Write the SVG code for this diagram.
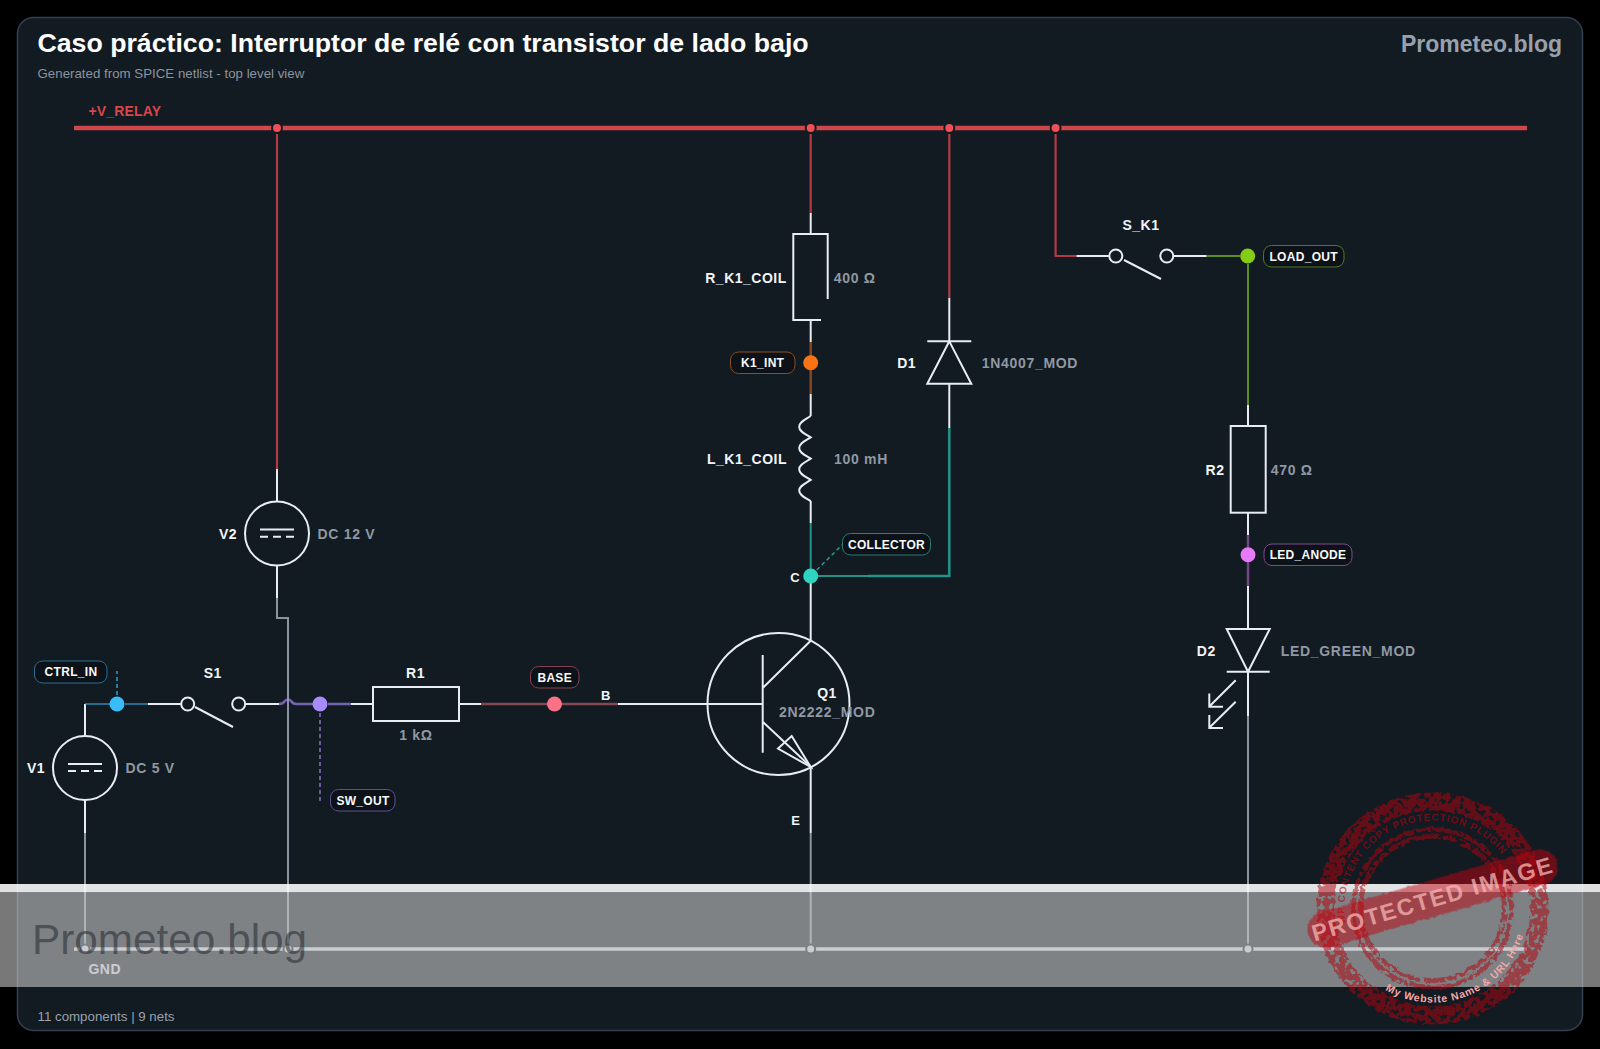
<svg xmlns="http://www.w3.org/2000/svg" width="1600" height="1049" viewBox="0 0 1600 1049">
<style>
text{font-family:"Liberation Sans",Arial,sans-serif}
.w{fill:none;stroke:#e8edf3;stroke-width:2}
.s{fill:none;stroke:#e8edf3;stroke-width:2}
.n{font-size:14px;font-weight:700;fill:#f1f5f9;letter-spacing:.5px;text-anchor:middle}
.t{font-size:13px;font-weight:700;fill:#f1f5f9;text-anchor:middle}
.v{font-size:14px;font-weight:700;fill:#8f98a3;letter-spacing:.7px}
.p{font-size:12px;font-weight:700;fill:#f8fafc;letter-spacing:.3px;text-anchor:middle}
.r{fill:none;stroke:#b23a44;stroke-width:2.2}
.g{fill:none;stroke:#8a94a1;stroke-width:2}
.pill{fill:#0c1218;stroke-width:1}
.j{stroke:#121a22;stroke-width:2}
</style>
<defs>
<filter id="rough" x="-5%" y="-5%" width="110%" height="110%" color-interpolation-filters="sRGB">
<feTurbulence type="fractalNoise" baseFrequency="0.2" numOctaves="2" seed="3" result="n"/>
<feDisplacementMap in="SourceGraphic" in2="n" scale="5" xChannelSelector="R" yChannelSelector="G" result="d"/>
<feColorMatrix in="n" type="matrix" values="0 0 0 0 0 0 0 0 0 0 0 0 0 0 0 0 0 0 -9 5.9" result="m"/>
<feComposite in="d" in2="m" operator="in"/>
</filter>
<filter id="edge" x="-5%" y="-20%" width="110%" height="140%" color-interpolation-filters="sRGB">
<feTurbulence type="fractalNoise" baseFrequency="0.2" numOctaves="2" seed="5" result="n"/>
<feDisplacementMap in="SourceGraphic" in2="n" scale="4" xChannelSelector="R" yChannelSelector="G"/>
</filter>
<path id="arcTop" d="M1345.8 923.8A88 88 0 0 1 1512.2 871.3"/>
<path id="arcBot" d="M1385 990A95 95 0 0 0 1527 900"/>
</defs>
<rect width="1600" height="1049" fill="#000"/>
<rect x="17.5" y="17.5" width="1565" height="1013" rx="16" fill="#121a22" stroke="#334150" stroke-width="1.5"/>
<text x="37.5" y="52" font-size="26.7" font-weight="700" fill="#fff">Caso práctico: Interruptor de relé con transistor de lado bajo</text>
<text x="37.5" y="78" font-size="13.3" fill="#8b949e">Generated from SPICE netlist - top level view</text>
<text x="1562" y="52" font-size="23" font-weight="700" fill="#98a1ab" text-anchor="end">Prometeo.blog</text>
<text x="37.5" y="1021" font-size="13.3" fill="#99a2ad">11 components | 9 nets</text>

<g id="connectors">
<path d="M74 128H1527" fill="none" stroke="#d0484e" stroke-width="4.5"/>
<path d="M74 949H1527" fill="none" stroke="#cbd5e1" stroke-width="3.5"/>
<path class="r" d="M277 134V469"/>
<path class="w" d="M277 469V501M277 565V598"/>
<path class="g" d="M277 598V618H288V949"/>
<path class="r" d="M810.7 134V213"/>
<path class="w" d="M810.7 213V234M810.7 320V342M810.7 394V416M810.7 501V523M810.7 583V640M810.7 767V833"/>
<path class="g" d="M810.7 833V949"/>
<path d="M810.7 342V394" fill="none" stroke="#f97316" stroke-opacity=".5" stroke-width="2.5"/>
<path d="M810.7 523V569M818 576H868" fill="none" stroke="#2dd4bf" stroke-opacity=".65" stroke-width="2"/>
<path d="M868 576H949.3V428" fill="none" stroke="#2dd4bf" stroke-opacity=".65" stroke-width="2.5"/>
<path d="M816.7 570L842 545" fill="none" stroke="#2dd4bf" stroke-opacity=".7" stroke-width="1.5" stroke-dasharray="4 3"/>
<path class="r" d="M949.3 134V298"/>
<path class="w" d="M949.3 298V342M949.3 384V428"/>
<path class="r" d="M1055.6 134V256H1076.5"/>
<path class="w" d="M1076.5 256H1108.8M1173.8 256H1206.6"/>
<path d="M1206.6 256H1240M1248 264V405" fill="none" stroke="#84cc16" stroke-opacity=".65" stroke-width="2"/>
<path class="w" d="M1248 405V426M1248 513V535M1248 586V629M1248 672V716"/>
<path d="M1248 535V586" fill="none" stroke="#e879f9" stroke-opacity=".45" stroke-width="2.5"/>
<path class="g" d="M1248 716V949"/>
<path class="w" d="M85 736V704"/>
<path d="M85 704H110M125 704H148" fill="none" stroke="#38bdf8" stroke-opacity=".5" stroke-width="2"/>
<path d="M117 695V671" fill="none" stroke="#38bdf8" stroke-opacity=".8" stroke-width="1.5" stroke-dasharray="4 3"/>
<path class="w" d="M148 704H181M245.7 704H279M351 704H373M459 704H481M618 704H762.7"/>
<path d="M279 704Q283 704 285 701Q288 698 291 701Q293 704 296 704H313M328 704H351" fill="none" stroke="#a78bfa" stroke-opacity=".65" stroke-width="2.5"/>
<path d="M320 713V801" fill="none" stroke="#a78bfa" stroke-opacity=".8" stroke-width="1.5" stroke-dasharray="4 3"/>
<path d="M481 704H618" fill="none" stroke="#fb7185" stroke-opacity=".5" stroke-width="2.5"/>
<path class="g" d="M85 833V949"/>
<path class="w" d="M85 800V833"/>
</g>

<g id="junctions">
<g fill="#ef4f55" class="j"><circle cx="277" cy="128" r="5"/><circle cx="810.7" cy="128" r="5"/><circle cx="949.3" cy="128" r="5"/><circle cx="1055.6" cy="128" r="5"/></g>
<g fill="#cbd5e1" class="j"><circle cx="85" cy="949" r="4.5"/><circle cx="288" cy="949" r="4.5"/><circle cx="810.7" cy="949" r="4.5"/><circle cx="1248" cy="949" r="4.5"/></g>
</g>

<g id="net-ctrl-in"><circle cx="117" cy="704" r="7.5" fill="#38bdf8"/><rect class="pill" x="34.5" y="661" width="72.5" height="22" rx="8" stroke="#2a6f8f"/><text class="p" x="71" y="676">CTRL_IN</text></g>
<g id="net-sw-out"><circle cx="320" cy="704" r="7.5" fill="#a78bfa"/><rect class="pill" x="330.5" y="789.5" width="64.5" height="21.5" rx="8" stroke="#5b5391"/><text class="p" x="363" y="804.5">SW_OUT</text></g>
<g id="net-base"><circle cx="554.5" cy="704" r="7.5" fill="#fb7185"/><rect class="pill" x="530.5" y="666.5" width="48.5" height="21.5" rx="8" stroke="#87404f"/><text class="p" x="554.7" y="681.5">BASE</text></g>
<g id="net-k1-int"><circle cx="810.7" cy="362.7" r="7.5" fill="#f97316"/><rect class="pill" x="730.5" y="352" width="64.5" height="21.5" rx="8" stroke="#8a4f22"/><text class="p" x="762.7" y="367">K1_INT</text></g>
<g id="net-collector"><circle cx="810.7" cy="576" r="7.5" fill="#2dd4bf"/><rect class="pill" x="842.5" y="533.5" width="88" height="21.5" rx="8" stroke="#2a7f76"/><text class="p" x="886.5" y="548.5">COLLECTOR</text></g>
<g id="net-load-out"><circle cx="1247.7" cy="256" r="7.5" fill="#84cc16"/><rect class="pill" x="1263.5" y="245.5" width="80.5" height="21.5" rx="8" stroke="#4e7a1f"/><text class="p" x="1303.7" y="260.5">LOAD_OUT</text></g>
<g id="net-led-anode"><circle cx="1248" cy="554.7" r="7.5" fill="#e879f9"/><rect class="pill" x="1264" y="544" width="88" height="21.5" rx="8" stroke="#7e4a8c"/><text class="p" x="1308" y="559">LED_ANODE</text></g>
<text id="net-vrelay" x="88.5" y="116" font-size="14" font-weight="700" fill="#d9454a" letter-spacing=".15">+V_RELAY</text>
<text id="net-gnd" x="104.7" y="974" font-size="14" font-weight="700" fill="#cbd5e1" text-anchor="middle" letter-spacing=".5">GND</text>

<g id="V1"><circle class="s" cx="85" cy="768" r="32"/><path class="s" d="M68 764H102"/><path class="s" d="M68 771H102" stroke-dasharray="8 5"/><text class="n" x="36" y="773">V1</text><text class="v" x="125.5" y="773">DC 5 V</text></g>
<g id="V2"><circle class="s" cx="277" cy="533.5" r="32"/><path class="s" d="M260 529.5H294"/><path class="s" d="M260 536.7H294" stroke-dasharray="8 5"/><text class="n" x="228" y="538.5">V2</text><text class="v" x="317.5" y="538.5">DC 12 V</text></g>
<g id="S1"><circle class="s" cx="187.7" cy="704" r="6.5"/><circle class="s" cx="238.7" cy="704" r="6.5"/><path class="s" d="M195 707L233 727"/><text class="n" x="212.7" y="678">S1</text></g>
<g id="R1"><rect class="s" x="373" y="687" width="86" height="34"/><text class="n" x="415.5" y="678">R1</text><text class="v" x="416" y="740" text-anchor="middle">1 kΩ</text></g>
<g id="Q1"><circle class="s" cx="778.5" cy="704" r="71"/><path class="s" d="M762.7 655V752.7M762.7 688L810.7 640.7M762.7 721.7L810.7 766.7"/><path class="s" d="M810.7 767L778 748.5L791.7 736Z"/><text class="n" x="827" y="698">Q1</text><text class="v" x="779" y="717">2N2222_MOD</text><text class="t" x="605.7" y="700">B</text><text class="t" x="795" y="581.5">C</text><text class="t" x="795.7" y="825">E</text></g>
<g id="R_K1_COIL"><path class="s" d="M827.7 299V234H793.3V320H821"/><text class="n" x="746" y="282.5">R_K1_COIL</text><text class="v" x="833.7" y="282.5">400 Ω</text></g>
<g id="L_K1_COIL"><path class="s" d="M810.7 416c-6 4-11.5 6-11.5 10.7c0 5 6 7 11.5 10.6c-6 4-11.5 6-11.5 10.7c0 5 6 7 11.5 10.6c-6 4-11.5 6-11.5 10.7c0 5 6 7 11.5 10.6c-6 4-11.5 6-11.5 10.7c0 5 6 7 11.5 10.6"/><text class="n" x="747" y="464">L_K1_COIL</text><text class="v" x="834" y="464">100 mH</text></g>
<g id="D1"><path class="s" d="M927.3 341.3H971.3M949.3 341.3L927.3 383.7H971.3Z"/><text class="n" x="906.7" y="368">D1</text><text class="v" x="981.7" y="368">1N4007_MOD</text></g>
<g id="S_K1"><circle class="s" cx="1115.8" cy="256" r="6.5"/><circle class="s" cx="1166.8" cy="256" r="6.5"/><path class="s" d="M1124 260L1161 279"/><text class="n" x="1141" y="230">S_K1</text></g>
<g id="R2"><rect class="s" x="1230.7" y="426" width="35" height="86.7"/><text class="n" x="1215" y="475">R2</text><text class="v" x="1270.7" y="475">470 Ω</text></g>
<g id="D2"><path class="s" d="M1226.7 629H1269.7L1248 671.7ZM1226.7 671.7H1269.7"/><path class="s" d="M1235.7 680.3L1209.3 706.5M1209.3 693.5V706.7H1223M1235.7 701.7L1209.3 727.7M1209.3 715V728H1223"/><text class="n" x="1206.3" y="656">D2</text><text class="v" x="1280.7" y="656">LED_GREEN_MOD</text></g>

<g id="watermark-band">
<rect x="0" y="884" width="1600" height="8.3" fill="#fff" fill-opacity=".88"/>
<rect x="0" y="892.3" width="1600" height="94.7" fill="#c8c8c8" fill-opacity=".6"/>
<text x="32" y="954" font-size="42.3" fill="#22262c" fill-opacity=".55">Prometeo.blog</text>
</g>
<g id="watermark-stamp">
<g filter="url(#rough)" fill="none" stroke="#b0030f" stroke-opacity=".52">
<circle cx="1432.5" cy="908.5" r="107" stroke-width="18"/>
<circle cx="1432.5" cy="908.5" r="79" stroke-width="5"/>
<circle cx="1432.5" cy="908.5" r="72" stroke-width="5"/>
</g>
<text font-size="10" font-weight="700" fill="#b0030f" fill-opacity=".6" letter-spacing=".8"><textPath href="#arcTop">WP CONTENT COPY PROTECTION PLUGIN</textPath></text>
<g transform="rotate(-16.2 1432.5 898.5)">
<rect x="1303" y="880.5" width="259" height="36" rx="18" fill="#c0030f" fill-opacity=".5" filter="url(#edge)"/>
<text x="1432.5" y="907" font-size="23.3" font-weight="700" fill="#f5b5b5" fill-opacity=".75" text-anchor="middle" letter-spacing="1.6">PROTECTED IMAGE</text>
</g>
<text font-size="10.5" font-weight="700" fill="#f3a6a8" letter-spacing=".8"><textPath href="#arcBot">My Website Name &amp; URL Here</textPath></text>
</g>
</svg>
